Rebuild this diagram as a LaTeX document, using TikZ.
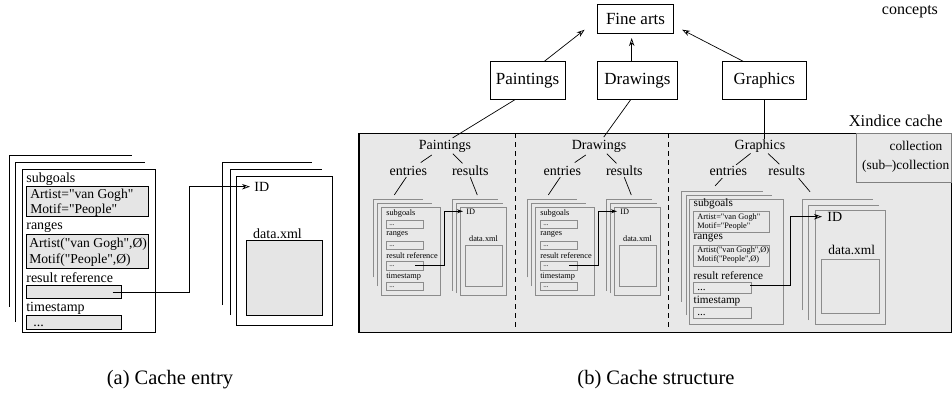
\documentclass[tikz,border=0pt]{standalone}
\usepackage{fontspec}
\setmainfont{Liberation Serif}[Ligatures=TeXOff]
\usetikzlibrary{arrows.meta}
\newcommand\fsz[1]{\fontsize{#1}{#1}\selectfont}
\definecolor{cachegray}{gray}{0.91}
\definecolor{boxgray}{gray}{0.9}
\definecolor{linegray}{gray}{0.55}

\begin{document}
\begin{tikzpicture}
  [x=1pt,y=-1pt,line width=.7pt,>={Stealth[open,length=8pt,width=5.5pt]},
   every node/.style={inner sep=0pt},
   concept/.style={draw,fill=white,font=\fsz{17},minimum height=37.6pt},
   big/.style={font=\fsz{14}},
   boxtext/.style={font=\fsz{13.6},anchor=west},
   mid/.style={font=\fsz{11.2}},
   small/.style={font=\fsz{8.3}},
   dots/.style={anchor=base west,text height=1pt,text depth=0pt},
   field/.style={draw,fill=boxgray},
   sheet/.style={draw=linegray},
   smallfield/.style={draw=linegray,fill=cachegray}]
  \useasboundingbox (0,0) rectangle (952,402);

  % (a) cache entry
  \draw (9,306.7) |- (131.7,155.7);
  \draw (15.7,321.7) |- (145,162.3);
  \draw (22.3,169.3) rectangle (155.7,332.7);
  \node[big,anchor=west] (a-sg) at (26,179) {subgoals};
  \draw[field] (26,186.7) rectangle (148.3,216.7);
  \node[boxtext] (a-sg1) at (30,195.7) {Artist="van Gogh"};
  \node[boxtext] (a-sg2) at (30,210) {Motif="People"};
  \node[big,anchor=west] (a-rg) at (26,227) {ranges};
  \draw[field] (26,234) rectangle (148.3,268.3);
  \node[boxtext] (a-rg1) at (29,244) {Artist("van Gogh",Ø)};
  \node[boxtext] (a-rg2) at (29,260) {Motif("People",Ø)};
  \node[big,anchor=west] (a-rr) at (26,278) {result reference};
  \draw[field] (26,285) rectangle (121.7,298.3);
  \node[big,anchor=west] (a-ts) at (26,308) {timestamp};
  \draw[field] (26,315.7) rectangle (121.7,329.3);
  \node[big,dots] (a-ts1) at (33,326) {...};

  \draw (222.7,305) |- (311.7,162.3);
  \draw (230,315) |- (321.7,169);
  \draw (236.7,176) rectangle (332.7,325.7);
  \node[big,anchor=west,inner xsep=4pt] (a-id) at (250,186.7) {ID};
  \node[big] (a-xml) at (277.5,233.3) {data.xml};
  \draw[field] (246.7,240) rectangle (322.3,315.7);
  \coordinate (a-ref) at (112.7,292.7);
  \draw[->] (a-ref) -- ++(76.6,0) |- (a-id.west);

  \node[font=\fsz{20.5}] (capa) at (170,380) {(a) Cache entry};

  % (b) cache structure: concepts
  \node[concept,minimum width=75.6pt,minimum height=29.3pt] (fine) at (635.5,18.7) {Fine arts};
  \node[concept,minimum width=75pt] (paint) at (527.5,80.5) {Paintings};
  \node[concept,minimum width=79.6pt] (draw) at (637.5,80.5) {Drawings};
  \node[concept,minimum width=83.3pt] (graph) at (764.3,80.5) {Graphics};
  \node[font=\fsz{16},anchor=east] (conc) at (938.3,11.7) {concepts};

  \draw[->] ([xshift=16.8pt]paint.north) -- ([xshift=-12.7pt,yshift=4pt]fine.south west);
  \draw[->] ([xshift=-5.8pt]draw.north) -- ([xshift=-3.8pt,yshift=-4.4pt]fine.south);
  \draw[->] ([xshift=-21pt]graph.north) -- ([xshift=8.4pt,yshift=4pt]fine.south east);

  % xindice cache
  \node[font=\fsz{16.5},anchor=east] (xc) at (943,120.7) {Xindice cache};
  \draw[line width=1.1pt,fill=cachegray] (359,133.3) rectangle (951.3,332.7);
  \draw[line width=.9pt,draw=gray] (856,133.3) rectangle (951.3,182.7);
  \node[font=\fsz{13.4}] (coll) at (916,146) {collection};
  \node[font=\fsz{13.4}] (subcoll) at (905.7,166.7) {(sub–)collection};
  \foreach \x in {515,668.3}
    \draw[dashed,dash pattern=on 5pt off 4pt] (\x,133.3) -- (\x,326.7);

  \foreach \cat/\dx in {Paintings/0,Drawings/154}{
    \begin{scope}[xshift=\dx pt]
      \node[big] (\cat-lab) at (445,146) {\cat};
      \node[big] (\cat-ent) at (408.3,171) {entries};
      \node[big] (\cat-res) at (470.3,171) {results};
      \draw[shorten <=16pt,shorten >=15pt] (\cat-lab.center) -- (\cat-ent.center);
      \draw[shorten <=11pt,shorten >=11pt] (\cat-lab.center) -- (\cat-res.center);
      \coordinate (\cat-es) at (394.3,195);
      \coordinate (\cat-rs) at (477.3,195);
      \draw ([xshift=-2pt,yshift=-1pt]\cat-ent.south) -- (\cat-es);
      \draw ([xshift=0pt,yshift=-1pt]\cat-res.south) -- (\cat-rs);
      % entries
      \draw[sheet] (373.3,277.3) |- (423.3,199.3);
      \draw[sheet] (377.3,286) |- (431.7,203.3);
      \draw[sheet] (381.7,207.7) rectangle (440.7,295);
      \node[small,anchor=west] (\cat-sg) at (386,213.3) {subgoals};
      \node[small,anchor=west] (\cat-rg) at (386,234.3) {ranges};
      \node[small,anchor=west] (\cat-rr) at (386,255.7) {result reference};
      \node[small,anchor=west] (\cat-ts) at (386,276.7) {timestamp};
      \foreach \ya/\yb in {220.7/228.3,241.7/249.3,261.7/270,282.7/290.7}{
        \draw[smallfield] (386,\ya) rectangle (423.3,\yb);
        \node[font=\fsz{7},dots] (\cat-dots\ya) at (389,\ya+4.5) {...};
      }
      % results
      \draw[sheet] (452.3,290.7) |- (498.3,199.3);
      \draw[sheet] (456.7,293) |- (502.7,203.3);
      \draw[sheet] (460.7,207.7) rectangle (506.7,295);
      \node[small,anchor=west,inner xsep=3pt] (\cat-id) at (463,211.3) {ID};
      \node[small] (\cat-xml) at (483.5,238.3) {data.xml};
      \draw[smallfield] (465.3,245) rectangle (502.7,286.7);
      \coordinate (\cat-ref) at (415,265.7);
      \draw[->,>={Stealth[open,length=6pt,width=4pt]}] (\cat-ref) -- ++(29.3,0) |- (\cat-id.west);
    \end{scope}
  }

  % graphics
  \node[big] (Graphics-lab) at (760,146) {Graphics};
  \node[big] (Graphics-ent) at (728.3,171) {entries};
  \node[big] (Graphics-res) at (786.7,171) {results};
  \draw[shorten <=12pt,shorten >=10pt] (Graphics-lab.center) -- (Graphics-ent.center);
  \draw[shorten <=11pt,shorten >=10pt] (Graphics-lab.center) -- (Graphics-res.center);
  \coordinate (Graphics-es) at (715,186);
  \coordinate (Graphics-rs) at (810,191.7);
  \draw ([xshift=-6pt,yshift=-2pt]Graphics-ent.south) -- (Graphics-es);
  \draw ([xshift=12pt,yshift=-2pt]Graphics-res.south) -- (Graphics-rs);
  \draw[sheet] (681,301.7) |- (763.3,191);
  \draw[sheet] (686,315) |- (771.7,195);
  \draw[sheet] (689.3,199.3) rectangle (783.3,324);
  \node[mid,anchor=west] (Graphics-sg) at (693.3,204.3) {subgoals};
  \draw[smallfield] (693.3,211.7) rectangle (769,232.7);
  \node[small,anchor=west] (Graphics-sg1) at (697,217.3) {Artist="van Gogh"};
  \node[small,anchor=west] (Graphics-sg2) at (697,226.7) {Motif="People"};
  \node[mid,anchor=west] (Graphics-rg) at (693.3,238.3) {ranges};
  \draw[smallfield] (693.3,245) rectangle (769.3,266.7);
  \node[small,anchor=west] (Graphics-rg1) at (697,250.7) {Artist("van Gogh",Ø)};
  \node[small,anchor=west] (Graphics-rg2) at (697,259.3) {Motif("People",Ø)};
  \node[mid,anchor=west] (Graphics-rr) at (693.3,276) {result reference};
  \draw[smallfield] (693.3,282.7) rectangle (751.7,293.3);
  \node[mid,dots] (Graphics-rr1) at (697,290) {...};
  \node[mid,anchor=west] (Graphics-ts) at (693.3,300.7) {timestamp};
  \draw[smallfield] (693.3,307.3) rectangle (751.7,318.3);
  \node[mid,dots] (Graphics-ts1) at (697,315) {...};
  \draw[sheet] (802.7,310) |- (872.7,199.3);
  \draw[sheet] (808.3,320) |- (879.3,205);
  \draw[sheet] (815,210.7) rectangle (885.7,324.3);
  \node[big,anchor=west,inner xsep=5pt] (Graphics-id) at (822,216.7) {ID};
  \node[font=\fsz{13.4}] (Graphics-xml) at (851.7,250) {data.xml};
  \draw[smallfield] (821.7,259.3) rectangle (879,313.3);
  \coordinate (Graphics-ref) at (750,285.7);
  \draw[->] (Graphics-ref) -- ++(40,0) |- (Graphics-id.west);

  % concepts to collections
  \draw[shorten >=3pt] ([xshift=-12.5pt]paint.south) -- ([xshift=5pt]Paintings-lab.north);
  \draw[shorten >=3pt] ([xshift=-6.8pt]draw.south) -- ([xshift=3pt]Drawings-lab.north);
  \draw (graph.south) -- ([xshift=4.3pt]Graphics-lab.north);

  \node[font=\fsz{20.5}] (capb) at (656,380) {(b) Cache structure};
\end{tikzpicture}
\end{document}
